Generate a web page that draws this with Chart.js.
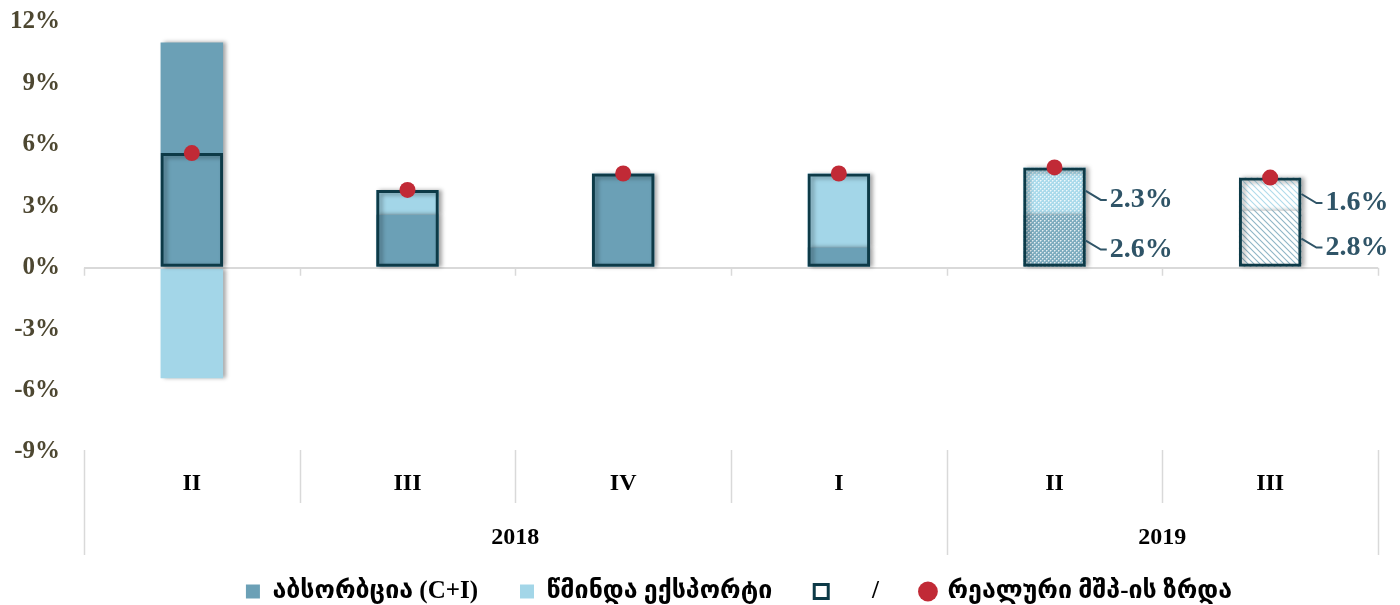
<!DOCTYPE html>
<html>
<head>
<meta charset="utf-8">
<title>აბსორბცია და წმინდა ექსპორტი</title>
<script src="https://cdn.jsdelivr.net/npm/chart.js@4.4.0/dist/chart.umd.min.js"></script>
<style>
    html, body { margin: 0; padding: 0; background: #fff; }
    canvas { display: block; }
</style>
</head>
<body>
<canvas id="gdpChart" width="1400" height="605"></canvas>
<script>
// Data
const quarters = ['II', 'III', 'IV', 'I', 'II', 'III'];
const years = ['2018', '2019'];
const yearSpans = [4, 2];
const absorption = [11.0, 2.6, 4.6, 1.0, 2.6, 2.8];
const netExports = [-5.4, 1.2, 0.0, 3.6, 2.3, 1.6];
const gdpGrowth = [5.6, 3.8, 4.6, 4.6, 4.9, 4.4];
const yMin = -9, yMax = 12, yStep = 3;

// Colours
const darkBlue = '#6ba0b6';
const lightBlue = '#a3d6e8';
const outline = '#0d3a47';
const dotRed = '#c12a36';
const tickBrown = '#4d4731';
const labelBlue = '#2f5467';

// the last two quarters are drawn with patterns and carry value labels
const labelledFrom = 4;

function dotPattern(fg) {
    const p = document.createElement('canvas');
    p.width = 4; p.height = 4;
    const c = p.getContext('2d');
    c.fillStyle = fg;
    c.fillRect(0, 0, 4, 4);
    c.fillStyle = 'rgba(255,255,255,0.8)';
    c.fillRect(0, 0, 1, 1);
    c.fillRect(2, 2, 1, 1);
    c.fillStyle = 'rgba(255,255,255,0.4)';
    c.fillRect(1, 0, 1, 1);
    c.fillRect(0, 1, 1, 1);
    c.fillRect(3, 2, 1, 1);
    c.fillRect(2, 3, 1, 1);
    return c.createPattern(p, 'repeat');
}

function hatchPattern(fg) {
    const p = document.createElement('canvas');
    p.width = 6; p.height = 6;
    const c = p.getContext('2d');
    c.fillStyle = '#fff';
    c.fillRect(0, 0, 6, 6);
    c.strokeStyle = fg;
    c.lineWidth = 1.1;
    c.beginPath();
    c.moveTo(-1, -1); c.lineTo(7, 7);
    c.moveTo(5, -1); c.lineTo(7, 1);
    c.moveTo(-1, 5); c.lineTo(1, 7);
    c.stroke();
    return c.createPattern(p, 'repeat');
}

const fills = {
    absorption: [darkBlue, darkBlue, darkBlue, darkBlue, dotPattern('#7eacbf'), hatchPattern('#8fb5c6')],
    netExports: [lightBlue, lightBlue, lightBlue, lightBlue, dotPattern('#aadaeb'), hatchPattern('#b0dbeb')]
};

// soft shadow under the bars
const shadowPlugin = {
    id: 'barShadow',
    beforeDatasetDraw(chart, args) {
        if (args.meta.type !== 'bar') return;
        const c = chart.ctx;
        c.save();
        c.shadowColor = 'rgba(0,0,0,0.35)';
        c.shadowBlur = 4;
        c.shadowOffsetX = 3;
        c.shadowOffsetY = args.index === 2 ? 2 : 0;
    },
    afterDatasetDraw(chart, args) {
        if (args.meta.type !== 'bar') return;
        chart.ctx.restore();
    }
};

// value labels with leader lines for the patterned bars
const segmentLabels = {
    id: 'segmentLabels',
    afterDatasetsDraw(chart) {
        const c = chart.ctx;
        c.save();
        c.font = 'bold 28px "Liberation Serif"';
        c.fillStyle = labelBlue;
        c.strokeStyle = labelBlue;
        c.lineWidth = 2;
        c.textAlign = 'left';
        c.textBaseline = 'middle';
        [0, 1].forEach(di => {
            const meta = chart.getDatasetMeta(di);
            meta.data.forEach((bar, i) => {
                if (i < labelledFrom) return;
                const value = chart.data.datasets[di].data[i];
                const right = bar.x + bar.width / 2;
                const mid = (bar.y + bar.base) / 2;
                c.beginPath();
                c.moveTo(right, mid);
                c.lineTo(right + 15, mid + 9);
                c.lineTo(right + 21, mid + 9);
                c.stroke();
                c.fillText(value.toFixed(1) + '%', right + 24, mid + 9);
            });
        });
        c.restore();
    }
};

// category separators, zero-line ticks and the year row
const categoryAxis = {
    id: 'categoryAxis',
    afterDraw(chart) {
        const c = chart.ctx;
        const x = chart.scales.x;
        const y = chart.scales.y;
        const area = chart.chartArea;
        const half = (x.getPixelForValue(1) - x.getPixelForValue(0)) / 2;
        const edges = quarters.map((q, i) => x.getPixelForValue(i) - half);
        edges.push(x.getPixelForValue(quarters.length - 1) + half);
        const zero = y.getPixelForValue(0);

        const yearEdges = [0];
        yearSpans.forEach(n => yearEdges.push(yearEdges[yearEdges.length - 1] + n));

        c.save();
        c.strokeStyle = '#d9d9d9';
        c.lineWidth = 1.5;
        edges.forEach((ex, i) => {
            const px = Math.round(ex) + 0.5;
            c.beginPath();
            c.moveTo(px, zero);
            c.lineTo(px, zero + 8);
            c.moveTo(px, area.bottom - 2);
            c.lineTo(px, area.bottom + (yearEdges.includes(i) ? 103 : 51));
            c.stroke();
        });

        c.font = 'bold 24px "Liberation Serif"';
        c.fillStyle = '#000';
        c.textAlign = 'center';
        c.textBaseline = 'middle';
        years.forEach((yr, k) => {
            const cx = (edges[yearEdges[k]] + edges[yearEdges[k + 1]]) / 2;
            c.fillText(yr, cx, area.bottom + 86);
        });
        c.restore();
    }
};

// nudge the legend to where it sits in the original
const legendShift = {
    id: 'legendShift',
    afterUpdate(chart) {
        chart.legend.left += 50;
        chart.legend.right += 50;
        chart.legend.top += 9;
        chart.legend.bottom += 9;
    }
};

const ctx = document.getElementById('gdpChart');
new Chart(ctx, {
    type: 'bar',
    data: {
        labels: quarters,
        datasets: [
            {
                label: 'აბსორბცია (C+I)',
                data: absorption,
                stack: 'parts',
                order: 3,
                backgroundColor: c => fills.absorption[c.dataIndex],
                borderWidth: 0
            },
            {
                label: 'წმინდა ექსპორტი',
                data: netExports,
                stack: 'parts',
                order: 4,
                backgroundColor: c => fills.netExports[c.dataIndex],
                borderWidth: 0
            },
            {
                label: '/',
                data: gdpGrowth,
                stack: 'total',
                order: 2,
                backgroundColor: 'rgba(0,0,0,0)',
                borderColor: outline,
                borderWidth: 3,
                borderSkipped: false
            },
            {
                type: 'line',
                label: 'რეალური მშპ-ის ზრდა',
                data: gdpGrowth,
                stack: 'dot',
                order: 1,
                showLine: false,
                pointRadius: 8,
                pointBackgroundColor: dotRed,
                pointBorderWidth: 0
            }
        ]
    },
    options: {
        responsive: false,
        animation: false,
        datasets: {
            bar: {
                grouped: false,
                categoryPercentage: 1,
                barPercentage: 0.29
            }
        },
        layout: {
            padding: { top: 22, right: 22, left: 0, bottom: 0 }
        },
        scales: {
            x: {
                stacked: true,
                grid: { display: false },
                border: { display: false },
                ticks: {
                    color: '#000',
                    font: { family: '"Liberation Serif"', size: 24, weight: 'bold' },
                    padding: 9,
                    maxRotation: 0
                },
                afterFit: scale => { scale.height = 76; }
            },
            y: {
                stacked: true,
                min: yMin,
                max: yMax,
                border: { display: false },
                grid: {
                    drawTicks: false,
                    lineWidth: 2,
                    color: c => (c.tick && c.tick.value === 0 ? '#d9d9d9' : 'rgba(0,0,0,0)')
                },
                ticks: {
                    stepSize: yStep,
                    padding: 24,
                    color: tickBrown,
                    font: { family: '"Liberation Serif"', size: 25, weight: 'bold' },
                    callback: v => v + '%'
                },
                afterFit: scale => {
                    scale.width = 84;
                    scale.paddingTop = 0;
                    scale.paddingBottom = 0;
                }
            }
        },
        plugins: {
            tooltip: { enabled: false },
            legend: {
                position: 'bottom',
                labels: {
                    usePointStyle: true,
                    boxWidth: 14,
                    boxHeight: 14,
                    padding: 42,
                    color: '#000',
                    font: { family: '"Liberation Serif", "DejaVu Sans", sans-serif', size: 25, weight: 'bold' },
                    generateLabels: () => [
                        { text: 'აბსორბცია (C+I)', pointStyle: 'rect', fillStyle: darkBlue, strokeStyle: darkBlue, lineWidth: 0, datasetIndex: 0 },
                        { text: 'წმინდა ექსპორტი', pointStyle: 'rect', fillStyle: lightBlue, strokeStyle: lightBlue, lineWidth: 0, datasetIndex: 1 },
                        { text: '     /', pointStyle: 'rect', fillStyle: '#fff', strokeStyle: outline, lineWidth: 3, datasetIndex: 2 },
                        { text: 'რეალური მშპ-ის ზრდა', pointStyle: 'circle', fillStyle: dotRed, strokeStyle: dotRed, lineWidth: 0, datasetIndex: 3 }
                    ]
                }
            }
        }
    },
    plugins: [shadowPlugin, segmentLabels, categoryAxis, legendShift]
});
</script>
</body>
</html>
